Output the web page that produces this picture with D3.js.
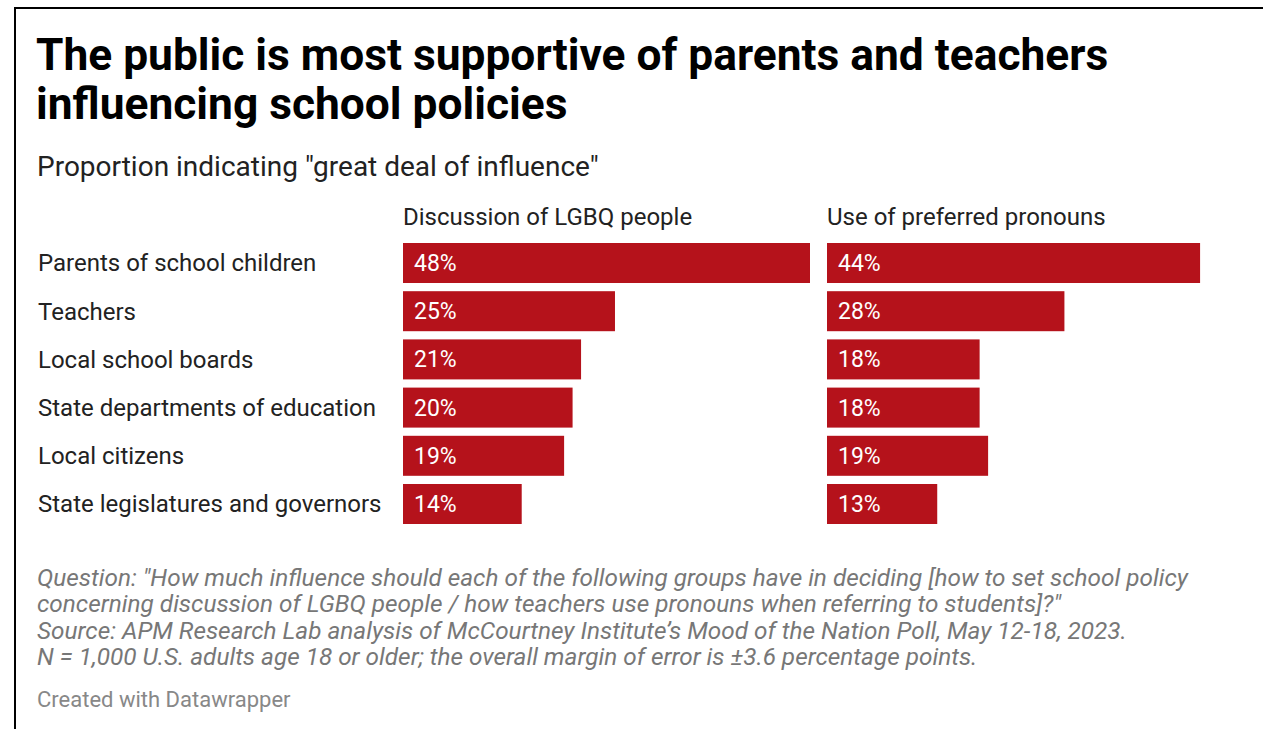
<!DOCTYPE html>
<html>
<head>
<meta charset="utf-8">
<script src="https://cdn.jsdelivr.net/npm/d3@7"></script>
<style>
  html, body { margin: 0; padding: 0; background: #fff; }
  svg { display: block; font-family: Roboto, "Noto Sans", sans-serif; }
</style>
</head>
<body>
<svg id="chart" width="1263" height="729"></svg>
<script>
// Groups asked about, in display order
const groups = [
  "Parents of school children",
  "Teachers",
  "Local school boards",
  "State departments of education",
  "Local citizens",
  "State legislatures and governors"
];
// Share saying each group should have a "great deal of influence" (%)
const discussionLGBQ = [48, 25, 21, 20, 19, 14];
const preferredPronouns = [44, 28, 18, 18, 19, 13];
const panelTitles = ["Discussion of LGBQ people", "Use of preferred pronouns"];

const titleLines = [
  "The public is most supportive of parents and teachers",
  "influencing school policies"
];
const subtitle = 'Proportion indicating "great deal of influence"';
const notes = [
  'Question: "How much influence should each of the following groups have in deciding [how to set school policy',
  'concerning discussion of LGBQ people / how teachers use pronouns when referring to students]?"',
  "Source: APM Research Lab analysis of McCourtney Institute\u2019s Mood of the Nation Poll, May 12-18, 2023.",
  "N = 1,000 U.S. adults age 18 or older; the overall margin of error is \u00b13.6 percentage points."
];
const credit = "Created with Datawrapper";

const svg = d3.select("#chart");
const barColor = "#b5121b";

// Frame lines along the top and left edges
svg.append("line").attr("x1", 15).attr("x2", 1263).attr("y1", 8).attr("y2", 8)
  .attr("stroke", "#000").attr("stroke-width", 2);
svg.append("line").attr("x1", 15).attr("x2", 15).attr("y1", 7).attr("y2", 729)
  .attr("stroke", "#000").attr("stroke-width", 2);

// Headline
svg.append("g").selectAll("text").data(titleLines).join("text")
  .attr("x", 36).attr("y", (d, i) => 70 + i * 48.5)
  .attr("font-size", 44.3).attr("font-weight", 700).attr("fill", "#000")
  .text(d => d);

svg.append("text").attr("x", 37).attr("y", 176)
  .attr("font-size", 28).attr("fill", "#222").text(subtitle);

// Layout of the two small-multiple panels
const panelX = [403, 827];
const y = d3.scaleBand().domain(groups).range([243, 524]).paddingInner(0.17).paddingOuter(0);
const x = d3.scaleLinear().domain([0, 48]).range([0, 407]);

// Row labels
svg.append("g").selectAll("text").data(groups).join("text")
  .attr("x", 38).attr("y", d => y(d) + y.bandwidth() / 2)
  .attr("dy", "0.35em").attr("font-size", 24).attr("fill", "#222")
  .text(d => d);

[discussionLGBQ, preferredPronouns].forEach((vals, p) => {
  const g = svg.append("g").attr("transform", `translate(${panelX[p]},0)`);
  g.append("text").attr("x", 0).attr("y", 225)
    .attr("font-size", 24).attr("fill", "#222").text(panelTitles[p]);
  const rows = vals.map((v, i) => ({ group: groups[i], value: v }));
  g.selectAll("rect").data(rows).join("rect")
    .attr("x", 0).attr("y", d => y(d.group))
    .attr("width", d => x(d.value)).attr("height", y.bandwidth())
    .attr("fill", barColor);
  g.selectAll("text.val").data(rows).join("text").attr("class", "val")
    .attr("x", 11).attr("y", d => y(d.group) + y.bandwidth() / 2)
    .attr("dy", "0.35em").attr("font-size", 23).attr("fill", "#fff")
    .text(d => d.value + "%");
});

// Notes and credit
svg.append("g").selectAll("text").data(notes).join("text")
  .attr("x", 37).attr("y", (d, i) => 586 + i * 26.3)
  .attr("font-size", 24.35).attr("font-style", "italic").attr("fill", "#777")
  .text(d => d);

svg.append("text").attr("x", 37).attr("y", 707)
  .attr("font-size", 22).attr("fill", "#888").text(credit);
</script>
</body>
</html>
